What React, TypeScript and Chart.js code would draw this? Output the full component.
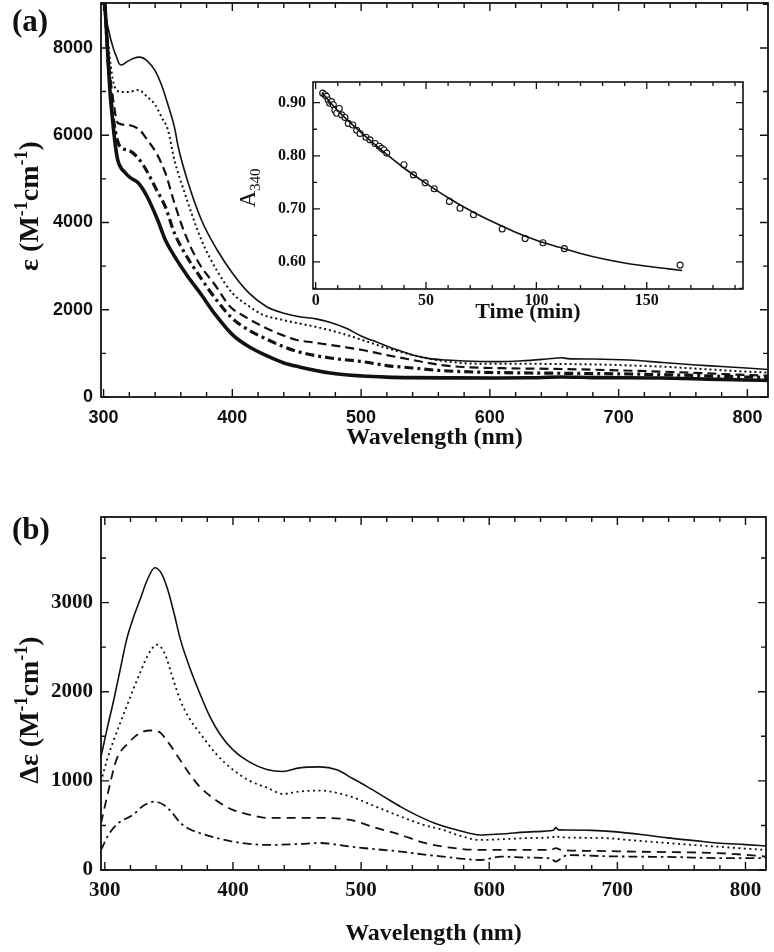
import React, { useEffect, useRef } from 'react';
import { Chart, registerables } from 'chart.js';

Chart.register(...registerables);

// ---------------- Panel (a): extinction spectra ----------------
const A_X_TICKS = [300, 400, 500, 600, 700, 800];
const A_Y_TICKS = [0, 2000, 4000, 6000, 8000];

const A_TOP_WL = [298, 301, 304, 308, 310, 312, 314, 318, 323, 328, 334, 340, 345, 350, 355, 358, 365, 376, 388, 400, 413, 427, 440, 452, 465, 475, 488, 500, 514, 527, 540, 553, 566, 580, 605, 625, 644, 656, 660, 680, 708, 734, 760, 780, 799, 816];
const A_TOP_EPS = [11000, 9000, 8400, 7950, 7800, 7640, 7610, 7680, 7760, 7790, 7700, 7480, 7150, 6700, 6190, 5730, 4974, 4057, 3380, 2842, 2380, 2063, 1920, 1840, 1790, 1720, 1581, 1400, 1238, 1090, 963, 880, 848, 825, 810, 830, 871, 901, 880, 870, 848, 790, 733, 700, 665, 630];

const A_DOT_WL = [298, 301, 304, 307, 310, 315, 319, 327, 334, 340, 345, 350, 355, 363, 376, 388, 400, 413, 424, 437, 450, 463, 475, 488, 501, 520, 540, 560, 579, 600, 630, 656, 690, 734, 766, 799, 816];
const A_DOT_EPS = [11000, 9000, 8000, 7300, 7036, 6990, 6990, 7036, 6876, 6700, 6417, 6120, 5432, 4676, 3598, 2900, 2383, 2080, 1880, 1780, 1696, 1620, 1535, 1430, 1306, 1120, 963, 840, 779, 760, 760, 756, 740, 695, 640, 581, 560];

const A_DASH_WL = [298, 301, 304, 308, 311, 319, 328, 334, 341, 348, 355, 363, 374, 387, 398, 411, 424, 437, 450, 463, 476, 488, 501, 520, 540, 560, 579, 610, 656, 700, 734, 770, 799, 816];
const A_DASH_EPS = [10800, 9000, 7700, 6700, 6280, 6234, 6120, 5890, 5590, 5134, 4446, 3759, 3071, 2550, 2080, 1820, 1611, 1440, 1306, 1250, 1192, 1140, 1077, 960, 848, 740, 687, 660, 642, 610, 581, 540, 504, 490];

const A_DASHDOT_WL = [298, 301, 304, 308, 313, 319, 328, 334, 340, 348, 355, 363, 375, 387, 400, 413, 427, 440, 452, 476, 501, 520, 540, 560, 579, 605, 631, 670, 708, 750, 799, 816];
const A_DASHDOT_EPS = [10500, 9000, 7500, 6300, 5730, 5660, 5432, 5157, 4813, 4355, 3759, 3300, 2750, 2250, 1800, 1530, 1320, 1150, 1031, 894, 810, 720, 665, 610, 581, 560, 550, 540, 527, 500, 458, 445];

const A_THICK_WL = [298, 301, 303, 305, 307, 309, 311, 317, 321, 327, 334, 342, 348, 355, 365, 375, 387, 400, 413, 427, 440, 452, 476, 501, 520, 540, 570, 605, 630, 656, 680, 734, 770, 799, 816];
const A_THICK_EPS = [10000, 9000, 8000, 7000, 6349, 5800, 5432, 5134, 5020, 4905, 4584, 4057, 3600, 3230, 2780, 2383, 1880, 1430, 1150, 940, 780, 690, 550, 481, 455, 443, 438, 435, 440, 458, 445, 435, 410, 390, 380];

// ---------------- Inset: A340 vs time ----------------
const INSET_X_TICKS = [0, 50, 100, 150];
const INSET_Y_TICKS = [0.6, 0.7, 0.8, 0.9];
const INSET_T = [3.2, 4.2, 4.9, 5.7, 6.4, 7.2, 8.0, 8.7, 9.5, 10.7, 11.8, 13.3, 14.8, 16.8, 18.6, 20.1, 22.8, 24.6, 26.9, 28.8, 29.9, 31.0, 32.2, 40.0, 44.3, 49.6, 53.7, 60.6, 65.4, 71.5, 84.5, 94.9, 103.0, 112.7, 165.1];
const INSET_A = [0.918, 0.915, 0.912, 0.905, 0.899, 0.902, 0.896, 0.886, 0.880, 0.889, 0.877, 0.872, 0.861, 0.858, 0.848, 0.842, 0.835, 0.830, 0.823, 0.818, 0.814, 0.811, 0.805, 0.783, 0.764, 0.749, 0.738, 0.714, 0.701, 0.689, 0.662, 0.644, 0.636, 0.625, 0.594];
const FIT_T = [3, 10, 20, 30, 40, 50, 60, 70, 80, 90, 100, 110, 120, 130, 140, 150, 160, 166];
const FIT_A = [0.918, 0.885, 0.846, 0.810, 0.777, 0.748, 0.721, 0.697, 0.676, 0.657, 0.641, 0.628, 0.616, 0.606, 0.598, 0.592, 0.587, 0.584];

// ---------------- Panel (b): difference spectra ----------------
const B_X_TICKS = [300, 400, 500, 600, 700, 800];
const B_Y_TICKS = [0, 1000, 2000, 3000];

const B_SOLID_WL = [297, 302, 307, 312, 317, 322, 327.5, 333, 339, 344, 349, 354, 359, 366, 374, 382, 390, 400, 413, 427, 439, 452, 468, 481, 493, 505, 518, 531, 544, 557, 575, 593, 609, 635, 650, 652, 654, 661, 680, 697, 720, 739, 760, 778, 800, 816];
const B_SOLID_DE = [1270, 1600, 1910, 2250, 2584, 2820, 3034, 3250, 3390, 3330, 3150, 2880, 2584, 2280, 1985, 1720, 1520, 1348, 1210, 1124, 1105, 1146, 1157, 1124, 1030, 933, 820, 708, 610, 528, 449, 393, 404, 430, 445, 475, 450, 449, 445, 430, 395, 360, 330, 303, 285, 270];

const B_DOT_WL = [297, 302, 307, 312, 317, 322, 327.5, 334, 340.7, 347, 352, 358.7, 366, 374, 387, 400, 413, 427, 439, 452, 468, 491.5, 510, 531, 548, 564, 578, 593, 610, 635, 650, 652, 655, 687, 710, 739, 760, 778, 800, 816];
const B_DOT_DE = [990, 1250, 1460, 1650, 1835, 2020, 2213, 2420, 2528, 2420, 2200, 1910, 1700, 1539, 1300, 1124, 1000, 921, 854, 880, 891, 824, 720, 599, 510, 449, 380, 337, 345, 360, 370, 385, 368, 360, 335, 303, 280, 262, 240, 225];

const B_DASH_WL = [297, 303, 309, 318, 327.5, 335, 341.7, 350, 358.7, 366, 374, 387, 400, 413, 427, 452, 468, 491.5, 510, 531, 548, 564, 593, 620, 648, 652, 656, 680, 713, 745, 778, 800, 816];
const B_DASH_DE = [525, 900, 1236, 1420, 1536, 1565, 1554, 1420, 1236, 1080, 936, 780, 674, 620, 584, 584, 584, 562, 480, 393, 310, 262, 225, 225, 225, 245, 225, 215, 206, 200, 190, 170, 150];

const B_DASHDOT_WL = [297, 303, 310, 322, 330, 339, 347, 352, 359, 366, 374, 387, 400, 427, 452, 468, 491.5, 510, 531, 548, 564, 580, 593, 609, 630, 648, 652, 656, 661, 690, 713, 745, 778, 816];
const B_DASHDOT_DE = [225, 400, 520, 620, 720, 767, 720, 650, 528, 460, 415, 360, 318, 281, 292, 303, 262, 235, 206, 175, 150, 125, 112, 150, 140, 130, 94, 130, 168, 155, 150, 145, 134, 134];

// ---------------- helpers ----------------
const SERIF = '"Liberation Serif", "Times New Roman", "DejaVu Serif", serif';
const SANS = '"Liberation Sans", Arial, "DejaVu Sans", sans-serif';
const INK = '#111';

const frameTicksPlugin = {
  id: 'frameTicks',
  afterDatasetsDraw(chart: any, _args: any, o: any) {
    const { ctx, chartArea } = chart;
    const { left, right, top, bottom } = chartArea;
    const xs = chart.scales.x;
    const ys = chart.scales.y;
    ctx.save();
    ctx.strokeStyle = INK;
    ctx.lineWidth = o.frame;
    ctx.strokeRect(left, top, right - left, bottom - top);
    ctx.lineWidth = o.tickWidth;
    ctx.beginPath();
    const run = (scale: any, step: number, len: number, horiz: boolean) => {
      const i0 = Math.ceil(scale.min / step - 1e-9);
      const i1 = Math.floor(scale.max / step + 1e-9);
      for (let i = i0; i <= i1; i++) {
        const p = scale.getPixelForValue(i * step);
        if (horiz) {
          ctx.moveTo(p, bottom); ctx.lineTo(p, bottom - len);
          ctx.moveTo(p, top); ctx.lineTo(p, top + len);
        } else {
          ctx.moveTo(left, p); ctx.lineTo(left + len, p);
          ctx.moveTo(right, p); ctx.lineTo(right - len, p);
        }
      }
    };
    run(xs, o.xMinor, o.minorLen, true);
    run(xs, o.xMajor, o.majorLen, true);
    run(ys, o.yMinor, o.minorLen, false);
    run(ys, o.yMajor, o.majorLen, false);
    ctx.stroke();
    ctx.restore();
  },
};

// Rotated y-axis title with real super/subscripts
const richTitlePlugin = {
  id: 'richTitle',
  afterDraw(chart: any, _args: any, o: any) {
    if (!o || !o.parts) return;
    const { ctx } = chart;
    ctx.save();
    ctx.fillStyle = INK;
    ctx.textBaseline = 'alphabetic';
    ctx.textAlign = 'left';
    const fontFor = (p: any) => `${o.weight} ${p.sup || p.sub ? Math.round(o.size * 0.64) : o.size}px ${SERIF}`;
    let total = 0;
    const widths = o.parts.map((p: any) => {
      ctx.font = fontFor(p);
      const w = ctx.measureText(p.t).width;
      total += w;
      return w;
    });
    ctx.translate(o.x, o.y);
    ctx.rotate(-Math.PI / 2);
    let cx = -total / 2;
    o.parts.forEach((p: any, i: number) => {
      ctx.font = fontFor(p);
      const dy = p.sup ? -o.size * 0.4 : p.sub ? o.size * 0.22 : 0;
      ctx.fillText(p.t, cx, o.size * 0.33 + dy);
      cx += widths[i];
    });
    ctx.restore();
  },
};

function pts(xs: number[], ys: number[]) {
  return xs.map((x, i) => ({ x, y: ys[i] }));
}

function noPadX(size: number) {
  return (s: any) => { s.height = size; s.paddingLeft = 0; s.paddingRight = 0; };
}
function noPadY(size: number) {
  return (s: any) => { s.width = size; s.paddingTop = 0; s.paddingBottom = 0; };
}

type Line = { wl: number[]; v: number[]; width: number; dash: number[]; cap?: string };

function spectrumConfig(p: any): any {
  return {
    type: 'line',
    data: {
      datasets: p.lines.map((s: Line) => ({
        data: pts(s.wl, s.v),
        borderColor: INK,
        borderWidth: s.width,
        borderDash: s.dash,
        borderCapStyle: s.cap || 'butt',
        pointRadius: 0,
        fill: false,
        cubicInterpolationMode: 'monotone',
      })),
    },
    options: {
      responsive: false,
      animation: false,
      events: [],
      layout: { padding: p.pad },
      plugins: {
        legend: { display: false },
        tooltip: { enabled: false },
        frameTicks: p.frame,
        richTitle: p.yTitle,
      },
      scales: {
        x: {
          type: 'linear',
          min: p.xMin,
          max: p.xMax,
          afterBuildTicks: (s: any) => { s.ticks = p.xTicks.map((v: number) => ({ value: v })); },
          afterFit: noPadX(p.xH),
          grid: { display: false, drawTicks: false },
          border: { display: false },
          ticks: { font: p.tickFont, color: INK, padding: p.xTickPad, maxRotation: 0, autoSkip: false, callback: (v: any) => String(v) },
          title: { display: true, text: 'Wavelength (nm)', font: { family: SERIF, weight: 'bold', size: 24 }, color: INK, padding: { top: 0, bottom: p.xTitlePad } },
        },
        y: {
          type: 'linear',
          min: p.yMin,
          max: p.yMax,
          afterBuildTicks: (s: any) => { s.ticks = p.yTicks.map((v: number) => ({ value: v })); },
          afterFit: noPadY(p.yW),
          grid: { display: false, drawTicks: false },
          border: { display: false },
          ticks: { font: p.tickFont, color: INK, padding: 8, autoSkip: false, callback: (v: any) => String(v) },
          title: { display: false },
        },
      },
    },
    plugins: [frameTicksPlugin, richTitlePlugin],
  };
}

function panelAConfig() {
  return spectrumConfig({
    lines: [
      { wl: A_TOP_WL, v: A_TOP_EPS, width: 1.6, dash: [] },
      { wl: A_DOT_WL, v: A_DOT_EPS, width: 2, dash: [2, 3] },
      { wl: A_DASH_WL, v: A_DASH_EPS, width: 2.2, dash: [9, 5] },
      { wl: A_DASHDOT_WL, v: A_DASHDOT_EPS, width: 3.2, dash: [9, 4, 3, 4] },
      { wl: A_THICK_WL, v: A_THICK_EPS, width: 3.6, dash: [] },
    ],
    pad: { left: 0, top: 3, right: 6, bottom: 0 },
    xMin: 298, xMax: 816, yMin: 0, yMax: 9030,
    xTicks: A_X_TICKS, yTicks: A_Y_TICKS,
    xH: 63, yW: 101, xTickPad: 10, xTitlePad: 8,
    tickFont: { family: SANS, weight: 'bold', size: 18 },
    yTitle: {
      x: 29, y: 206, size: 28, weight: 'bold',
      parts: [{ t: 'ε (M' }, { t: '-1', sup: true }, { t: 'cm' }, { t: '-1', sup: true }, { t: ')' }],
    },
    frame: { frame: 1.8, tickWidth: 1.4, majorLen: 8, minorLen: 5, xMajor: 100, xMinor: 20, yMajor: 2000, yMinor: 1000 },
  });
}

function panelBConfig() {
  return spectrumConfig({
    lines: [
      { wl: B_SOLID_WL, v: B_SOLID_DE, width: 1.6, dash: [] },
      { wl: B_DOT_WL, v: B_DOT_DE, width: 1.8, dash: [2, 3.5] },
      { wl: B_DASH_WL, v: B_DASH_DE, width: 1.8, dash: [9, 6] },
      { wl: B_DASHDOT_WL, v: B_DASHDOT_DE, width: 1.8, dash: [9, 4, 2.5, 4] },
    ],
    pad: { left: 0, top: 37, right: 8, bottom: 0 },
    xMin: 297, xMax: 816, yMin: 0, yMax: 3960,
    xTicks: B_X_TICKS, yTicks: B_Y_TICKS,
    xH: 82, yW: 101, xTickPad: 8, xTitlePad: 4,
    tickFont: { family: SERIF, weight: 'bold', size: 21 },
    yTitle: {
      x: 29, y: 230, size: 28, weight: 'bold',
      parts: [{ t: 'Δε (M' }, { t: '-1', sup: true }, { t: 'cm' }, { t: '-1', sup: true }, { t: ')' }],
    },
    frame: { frame: 1.8, tickWidth: 1.4, majorLen: 8, minorLen: 5, xMajor: 100, xMinor: 20, yMajor: 1000, yMinor: 500 },
  });
}

function insetConfig(): any {
  return {
    type: 'line',
    data: {
      datasets: [
        {
          data: pts(FIT_T, FIT_A),
          borderColor: INK,
          borderWidth: 1.6,
          pointRadius: 0,
          fill: false,
          cubicInterpolationMode: 'monotone',
        },
        {
          data: pts(INSET_T, INSET_A),
          showLine: false,
          pointRadius: 3,
          pointStyle: 'circle',
          pointBackgroundColor: '#fff',
          pointBorderColor: INK,
          pointBorderWidth: 1.1,
        },
      ],
    },
    options: {
      responsive: false,
      animation: false,
      events: [],
      layout: { padding: { left: 0, top: 12, right: 7, bottom: 0 } },
      plugins: {
        legend: { display: false },
        tooltip: { enabled: false },
        frameTicks: { frame: 1.6, tickWidth: 1.3, majorLen: 7, minorLen: 4, xMajor: 50, xMinor: 10, yMajor: 0.1, yMinor: 0.05 },
        richTitle: { x: 17, y: 118, size: 23, weight: 'normal', parts: [{ t: 'A' }, { t: '340', sub: true }] },
      },
      scales: {
        x: {
          type: 'linear',
          min: -1.2,
          max: 193.6,
          afterBuildTicks: (s: any) => { s.ticks = INSET_X_TICKS.map((v) => ({ value: v })); },
          afterFit: noPadX(41),
          grid: { display: false, drawTicks: false },
          border: { display: false },
          ticks: { font: { family: SERIF, weight: 'bold', size: 16 }, color: INK, padding: 2, maxRotation: 0, autoSkip: false, callback: (v: any) => String(v) },
          title: { display: true, text: 'Time (min)', font: { family: SERIF, weight: 'bold', size: 22 }, color: INK, padding: { top: 0, bottom: 4 } },
        },
        y: {
          type: 'linear',
          min: 0.549,
          max: 0.939,
          afterBuildTicks: (s: any) => { s.ticks = INSET_Y_TICKS.map((v) => ({ value: v })); },
          afterFit: noPadY(83),
          grid: { display: false, drawTicks: false },
          border: { display: false },
          ticks: { font: { family: SERIF, weight: 'bold', size: 16 }, color: INK, padding: 7, autoSkip: false, callback: (v: any) => Number(v).toFixed(2) },
          title: { display: false },
        },
      },
    },
    plugins: [frameTicksPlugin, richTitlePlugin],
  };
}

function ChartBox(props: { left: number; top: number; width: number; height: number; make: () => any }) {
  const ref = useRef<HTMLCanvasElement>(null);
  useEffect(() => {
    const chart = new Chart(ref.current as HTMLCanvasElement, props.make());
    return () => chart.destroy();
  }, []);
  return (
    <div style={{ position: 'absolute', left: props.left, top: props.top, width: props.width, height: props.height }}>
      <canvas ref={ref} width={props.width} height={props.height} style={{ width: props.width, height: props.height, display: 'block' }} />
    </div>
  );
}

const labelStyle: React.CSSProperties = {
  position: 'absolute',
  fontFamily: SERIF,
  fontWeight: 'bold',
  fontSize: 31,
  lineHeight: '31px',
  color: INK,
};

export default function App() {
  return (
    <div style={{ position: 'absolute', left: 0, top: 0, width: 774, height: 952, background: '#fff', overflow: 'hidden' }}>
      <ChartBox left={0} top={0} width={774} height={460} make={panelAConfig} />
      <ChartBox left={230} top={70} width={520} height={260} make={insetConfig} />
      <ChartBox left={0} top={480} width={774} height={472} make={panelBConfig} />
      <div style={{ ...labelStyle, left: 12, top: 5 }}>(a)</div>
      <div style={{ ...labelStyle, left: 12, top: 513 }}>(b)</div>
    </div>
  );
}
